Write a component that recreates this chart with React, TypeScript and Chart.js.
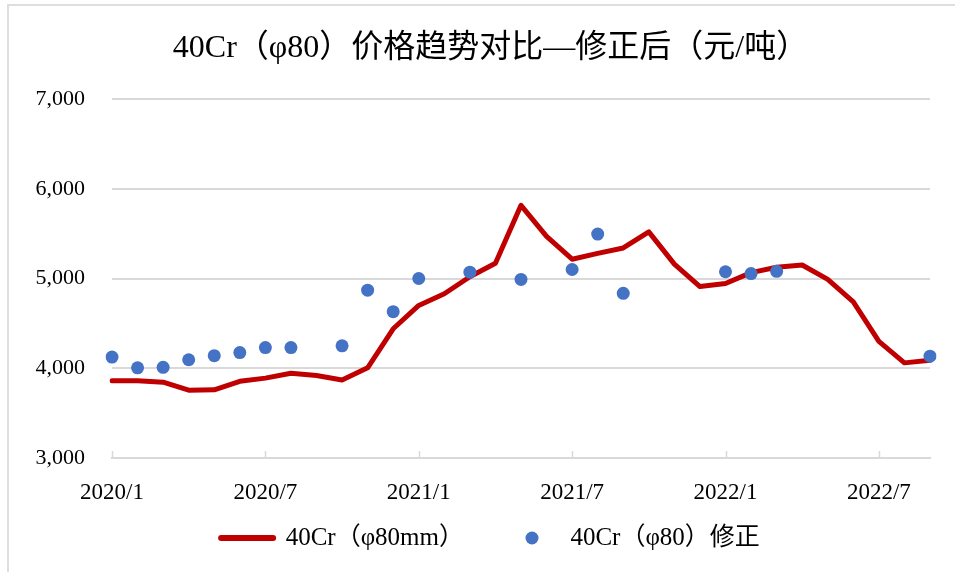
import React, { useEffect, useRef } from "react";
import { Chart, registerables } from "chart.js";

Chart.register(...registerables);

const months = [
  "2020/1", "2020/2", "2020/3", "2020/4", "2020/5", "2020/6", "2020/7", "2020/8", "2020/9", "2020/10", "2020/11", "2020/12",
  "2021/1", "2021/2", "2021/3", "2021/4", "2021/5", "2021/6", "2021/7", "2021/8", "2021/9", "2021/10", "2021/11", "2021/12",
  "2022/1", "2022/2", "2022/3", "2022/4", "2022/5", "2022/6", "2022/7", "2022/8", "2022/9",
];

const shownTickLabels = ["2020/1", "2020/7", "2021/1", "2021/7", "2022/1", "2022/7"];

const priceSeries = [
  3860, 3860, 3845, 3755, 3760, 3855, 3890, 3945, 3920, 3870, 4005, 4440,
  4700, 4830, 5020, 5170, 5815, 5470, 5215, 5280, 5340, 5520, 5160, 4910,
  4945, 5065, 5125, 5150, 4990, 4740, 4300, 4060, 4090,
];

const correctedSeries = [
  4125, 4005, 4010, 4095, 4140, 4175, 4230, 4230, null, 4250, 4870, 4630,
  5000, null, 5070, null, 4990, null, 5100, 5495, 4835, null, null, null,
  5075, 5055, 5080, null, null, null, null, null, 4135,
];

const seriesNames = ["40Cr（φ80mm）", "40Cr（φ80）修正"];
const titleText = "40Cr（φ80）价格趋势对比—修正后（元/吨）";

const RED = "#C00000";
const BLUE = "#4472C4";
const GRID = "#d9d9d9";
const FONT = "'Liberation Serif', 'Times New Roman', 'Noto Sans CJK SC', serif";

const tickMarksPlugin = {
  id: "tickMarksUp",
  beforeDatasetsDraw(chart: any) {
    const xs = chart.scales.x;
    const ctx = chart.ctx;
    ctx.save();
    ctx.strokeStyle = GRID;
    ctx.lineWidth = 1.5;
    months.forEach((m, i) => {
      if (shownTickLabels.includes(m)) {
        const px = Math.round(xs.getPixelForValue(i)) + 0.5;
        ctx.beginPath();
        ctx.moveTo(px, xs.top);
        ctx.lineTo(px, xs.top - 7);
        ctx.stroke();
      }
    });
    ctx.restore();
  },
};

export default function App() {
  const ref = useRef<HTMLCanvasElement | null>(null);

  useEffect(() => {
    if (!ref.current) return;
    const dot = document.createElement("canvas");
    dot.width = 14;
    dot.height = 14;
    const dctx = dot.getContext("2d");
    if (dctx) {
      dctx.fillStyle = BLUE;
      dctx.beginPath();
      dctx.arc(7, 7, 6.5, 0, Math.PI * 2);
      dctx.fill();
    }

    const chart = new Chart(ref.current, {
      type: "line",
      data: {
        labels: months,
        datasets: [
          {
            label: seriesNames[0],
            data: priceSeries,
            borderColor: RED,
            backgroundColor: RED,
            borderWidth: 5,
            pointRadius: 0,
            pointHoverRadius: 0,
            tension: 0,
            borderJoinStyle: "round",
            borderCapStyle: "round",
            order: 1,
          },
          {
            label: seriesNames[1],
            data: correctedSeries,
            showLine: false,
            borderColor: BLUE,
            backgroundColor: BLUE,
            pointRadius: 6.5,
            pointBorderWidth: 0,
            pointBackgroundColor: BLUE,
            order: 0,
          },
        ],
      },
      options: {
        responsive: false,
        animation: false,
        layout: { padding: { left: 51, right: 25, top: 0, bottom: 11.5 } },
        plugins: {
          tooltip: { enabled: false },
          title: {
            display: true,
            text: titleText,
            color: "#000",
            font: { family: FONT, size: 32, weight: "normal" },
            padding: { top: 29, bottom: 31.6 },
          },
          legend: {
            position: "bottom",
            labels: {
              usePointStyle: true,
              pointStyleWidth: 52,
              padding: 42,
              color: "#000",
              font: { family: FONT, size: 25 },
              generateLabels: (ch: any) =>
                ch.data.datasets.map((ds: any, i: number) => ({
                  text: ds.label,
                  datasetIndex: i,
                  hidden: false,
                  fillStyle: i === 0 ? RED : BLUE,
                  strokeStyle: i === 0 ? RED : BLUE,
                  lineWidth: i === 0 ? 6 : 0,
                  lineCap: "round",
                  pointStyle: i === 0 ? "line" : dot,
                  fontColor: "#000",
                })),
            },
          },
        },
        scales: {
          x: {
            type: "category",
            offset: false,
            afterFit: (s: any) => {
              s.height = 25.5;
            },
            grid: { display: true, drawOnChartArea: false, drawTicks: false },
            border: { display: true, color: GRID, width: 2 },
            ticks: {
              autoSkip: false,
              maxRotation: 0,
              minRotation: 0,
              mirror: true,
              padding: -48.8,
              color: "#000",
              font: { family: FONT, size: 23 },
              callback: (_v: any, i: number) => (shownTickLabels.includes(months[i]) ? months[i] : ""),
            },
          },
          y: {
            min: 3000,
            max: 7000,
            afterFit: (s: any) => {
              s.width = 61;
            },
            grid: { color: GRID, lineWidth: 2, drawTicks: false },
            border: { display: false },
            ticks: {
              stepSize: 1000,
              mirror: true,
              padding: -76.5,
              color: "#000",
              font: { family: FONT, size: 22 },
              callback: (v: any) => Number(v).toLocaleString("en-US"),
            },
          },
        },
      },
      plugins: [tickMarksPlugin],
    } as any);
    return () => chart.destroy();
  }, []);

  return (
    <div style={{ position: "fixed", left: 0, top: 0, width: 955, height: 572, background: "#fff", overflow: "hidden" }}>
      <div
        style={{
          position: "absolute",
          left: 7,
          top: 4,
          width: 1000,
          height: 1000,
          borderLeft: "2px solid #dedede",
          borderTop: "2px solid #dedede",
        }}
      />
      <canvas ref={ref} width={955} height={572} style={{ position: "absolute", left: 0, top: 0 }} />
    </div>
  );
}
